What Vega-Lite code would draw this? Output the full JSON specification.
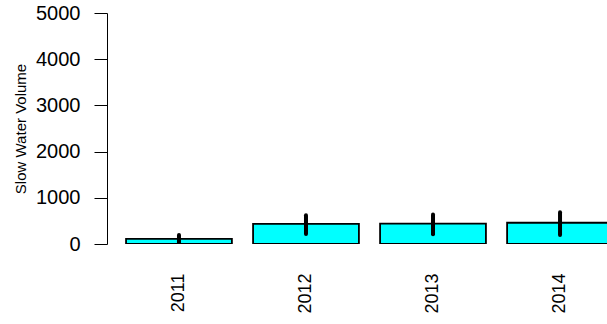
{
  "$schema": "https://vega.github.io/schema/vega-lite/v6.json",
  "autosize": "none",
  "width": 500,
  "height": 231,
  "padding": {"left": 107, "top": 13, "right": 0, "bottom": 80},
  "background": "white",
  "config": {"view": {"stroke": null}, "font": "Liberation Sans"},
  "data": {"values": [
    {"year": "2011", "value": 110, "lo": 20, "hi": 195},
    {"year": "2012", "value": 435, "lo": 215, "hi": 625},
    {"year": "2013", "value": 440, "lo": 210, "hi": 640},
    {"year": "2014", "value": 460, "lo": 195, "hi": 685}
  ]},
  "encoding": {
    "x": {
      "field": "year", "type": "nominal",
      "scale": {"range": [0, 525], "paddingInner": 0.1667, "paddingOuter": 0.15},
      "axis": {"title": null, "domain": false, "ticks": false, "tickSize": 0, "labelAngle": -90, "labelFontSize": 18, "labelColor": "black", "labelPadding": 29, "labelAlign": "right", "labelBaseline": "middle"}
    }
  },
  "layer": [
    {
      "mark": {"type": "bar", "fill": "#00FFFF", "stroke": "black", "strokeWidth": 1.8, "clip": true},
      "encoding": {
        "y": {
          "field": "value", "type": "quantitative",
          "scale": {"domain": [0, 5000], "nice": false},
          "axis": {"values": [0, 1000, 2000, 3000, 4000, 5000], "format": "d", "grid": false, "tickSize": 13, "tickColor": "black", "domainColor": "black", "labelFontSize": 20, "labelColor": "black", "labelPadding": 14, "title": "Slow Water Volume", "titleFontSize": 15, "titleFontWeight": "normal", "titleColor": "black", "titlePadding": 7}
        }
      }
    },
    {
      "mark": {"type": "rule", "stroke": "black", "strokeWidth": 4, "strokeCap": "round", "clip": true},
      "encoding": {
        "y": {"field": "lo", "type": "quantitative"},
        "y2": {"field": "hi"}
      }
    }
  ]
}
